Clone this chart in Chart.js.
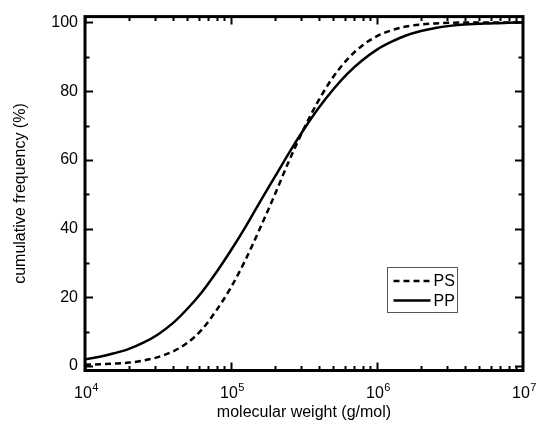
<!DOCTYPE html>
<html>
<head>
<meta charset="utf-8">
<script src="https://cdn.jsdelivr.net/npm/chart.js@4/dist/chart.umd.min.js"></script>
<style>
  html, body { margin: 0; padding: 0; background: #fff; }
  #wrap { width: 537px; height: 428px; }
</style>
</head>
<body>
<div id="wrap"><canvas id="myChart" width="537" height="428"></canvas></div>
<script>
// values
const molWeight = [1e4, 1.26e4, 1.58e4, 2.0e4, 2.51e4, 3.16e4, 3.98e4, 5.01e4, 6.31e4, 7.94e4,
                   1e5, 1.26e5, 1.58e5, 2.0e5, 2.51e5, 3.16e5, 3.98e5, 5.01e5, 6.31e5, 7.94e5,
                   1e6, 1.26e6, 1.58e6, 2.0e6, 2.51e6, 3.16e6, 3.98e6, 5.01e6, 6.31e6, 7.94e6, 1e7];
const psFreq = [0.4, 0.5, 0.7, 1.0, 1.6, 2.6, 4.2, 6.7, 10.6, 16.2,
                22.9, 31.0, 40.1, 50.0, 59.9, 69.1, 77.3, 84.1, 89.4, 93.3,
                96.0, 97.7, 98.8, 99.4, 99.7, 99.9, 100, 100, 100, 100, 100];
const ppFreq = [2.0, 2.7, 3.7, 5.0, 6.8, 9.2, 12.4, 16.6, 21.5, 27.3,
                33.7, 40.6, 47.8, 55.1, 62.2, 68.9, 75.1, 80.5, 85.2, 89.0,
                92.1, 94.4, 96.2, 97.5, 98.4, 99.0, 99.4, 99.6, 99.8, 99.9, 100];
const seriesNames = ['PS', 'PP'];
const xMajor = [1e4, 1e5, 1e6, 1e7];
const xExp = ['4', '5', '6', '7'];
const yMajor = [0, 20, 40, 60, 80, 100];
const yMinor = [10, 30, 50, 70, 90];

const FONT = 'Arial, "Liberation Sans", Helvetica, sans-serif';

// inward ticks on all four sides, thick frame, 10^n labels, legend box
const frameTicks = {
  id: 'frameTicks',
  afterDatasetsDraw(chart) {
    const ctx = chart.ctx;
    const a = chart.chartArea;
    const x = chart.scales.x, y = chart.scales.y;
    ctx.save();
    ctx.strokeStyle = '#000';
    ctx.lineWidth = 2;
    ctx.beginPath();
    for (let d = 4; d < 7; d++) {
      for (let m = 1; m <= 9; m++) {
        const v = m * Math.pow(10, d);
        const px = Math.round(x.getPixelForValue(v)) + 0.5;
        const len = m === 1 ? 8 : 4.5;
        ctx.moveTo(px, a.bottom); ctx.lineTo(px, a.bottom - len);
        ctx.moveTo(px, a.top); ctx.lineTo(px, a.top + len);
      }
    }
    yMajor.concat(yMinor).forEach(v => {
      const py = Math.round(y.getPixelForValue(v)) + 0.5;
      const len = yMajor.includes(v) ? 8 : 4.5;
      ctx.moveTo(a.left, py); ctx.lineTo(a.left + len, py);
      ctx.moveTo(a.right, py); ctx.lineTo(a.right - len, py);
    });
    ctx.stroke();

    ctx.lineWidth = 3;
    ctx.strokeRect(a.left, a.top, a.right - a.left, a.bottom - a.top);

    // x labels: 10 with raised exponent
    ctx.fillStyle = '#000';
    ctx.textBaseline = 'alphabetic';
    ctx.textAlign = 'left';
    xMajor.forEach((v, i) => {
      const px = x.getPixelForValue(v);
      ctx.font = '16px ' + FONT;
      const wBase = ctx.measureText('10').width;
      ctx.font = '11px ' + FONT;
      const wExp = ctx.measureText(xExp[i]).width;
      const x0 = px - (wBase + wExp) / 2 + 1;
      ctx.font = '16px ' + FONT;
      ctx.fillText('10', x0, a.bottom + 27);
      ctx.font = '11px ' + FONT;
      ctx.fillText(xExp[i], x0 + wBase + 0.5, a.bottom + 20);
    });

    // legend
    const lx = 387.5, ly = 267.5, lw = 70, lh = 45;
    ctx.fillStyle = '#fff';
    ctx.fillRect(lx, ly, lw, lh);
    ctx.lineWidth = 1;
    ctx.strokeStyle = '#555';
    ctx.strokeRect(lx, ly, lw, lh);
    ctx.font = '16px ' + FONT;
    ctx.textBaseline = 'middle';
    ctx.textAlign = 'left';
    chart.data.datasets.forEach((ds, i) => {
      const yy = ly + 13.5 + i * 19.5;
      ctx.strokeStyle = '#000';
      ctx.lineWidth = 2.5;
      ctx.setLineDash(ds.borderDash || []);
      ctx.beginPath();
      ctx.moveTo(lx + 6, yy); ctx.lineTo(lx + 43, yy);
      ctx.stroke();
      ctx.setLineDash([]);
      ctx.fillStyle = '#000';
      ctx.fillText(ds.label, lx + 46, yy + 1);
    });
    ctx.restore();
  }
};

const ctx = document.getElementById('myChart').getContext('2d');
const chart = new Chart(ctx, {
  type: 'line',
  data: {
    datasets: [
      {
        label: seriesNames[0],
        data: molWeight.map((m, i) => ({ x: m, y: psFreq[i] })),
        borderColor: '#000',
        borderWidth: 2.5,
        borderDash: [6, 4],
        pointRadius: 0,
        cubicInterpolationMode: 'monotone',
        fill: false
      },
      {
        label: seriesNames[1],
        data: molWeight.map((m, i) => ({ x: m, y: ppFreq[i] })),
        borderColor: '#000',
        borderWidth: 2.5,
        pointRadius: 0,
        cubicInterpolationMode: 'monotone',
        fill: false
      }
    ]
  },
  options: {
    responsive: false,
    animation: false,
    layout: { padding: { left: 0, top: 15, right: 14, bottom: 0 } },
    plugins: { legend: { display: false }, tooltip: { enabled: false } },
    scales: {
      x: {
        type: 'logarithmic',
        min: 1e4,
        max: 1e7,
        afterBuildTicks: s => { s.ticks = xMajor.map(v => ({ value: v })); },
        afterFit: s => { s.height = 57.5; s.paddingLeft = 0; s.paddingRight = 0; },
        grid: { display: false, drawTicks: false },
        border: { display: false },
        ticks: {
          color: '#000',
          padding: 12,
          maxRotation: 0,
          autoSkip: false,
          font: { family: FONT, size: 16 },
          callback: () => ''
        },
        title: {
          display: true,
          text: 'molecular weight (g/mol)',
          color: '#000',
          font: { family: FONT, size: 16 },
          padding: { top: 0, bottom: 6 }
        }
      },
      y: {
        type: 'linear',
        min: -1.3,
        max: 101.7,
        afterBuildTicks: s => { s.ticks = yMajor.map(v => ({ value: v })); },
        afterFit: s => { s.width = 85; },
        grid: { display: false, drawTicks: false },
        border: { display: false },
        ticks: {
          color: '#000',
          padding: 7,
          font: { family: FONT, size: 16 }
        },
        title: {
          display: true,
          text: 'cumulative frequency (%)',
          color: '#000',
          font: { family: FONT, size: 16 },
          padding: { top: 11, bottom: 0 }
        }
      }
    }
  },
  plugins: [frameTicks]
});
</script>
</body>
</html>
